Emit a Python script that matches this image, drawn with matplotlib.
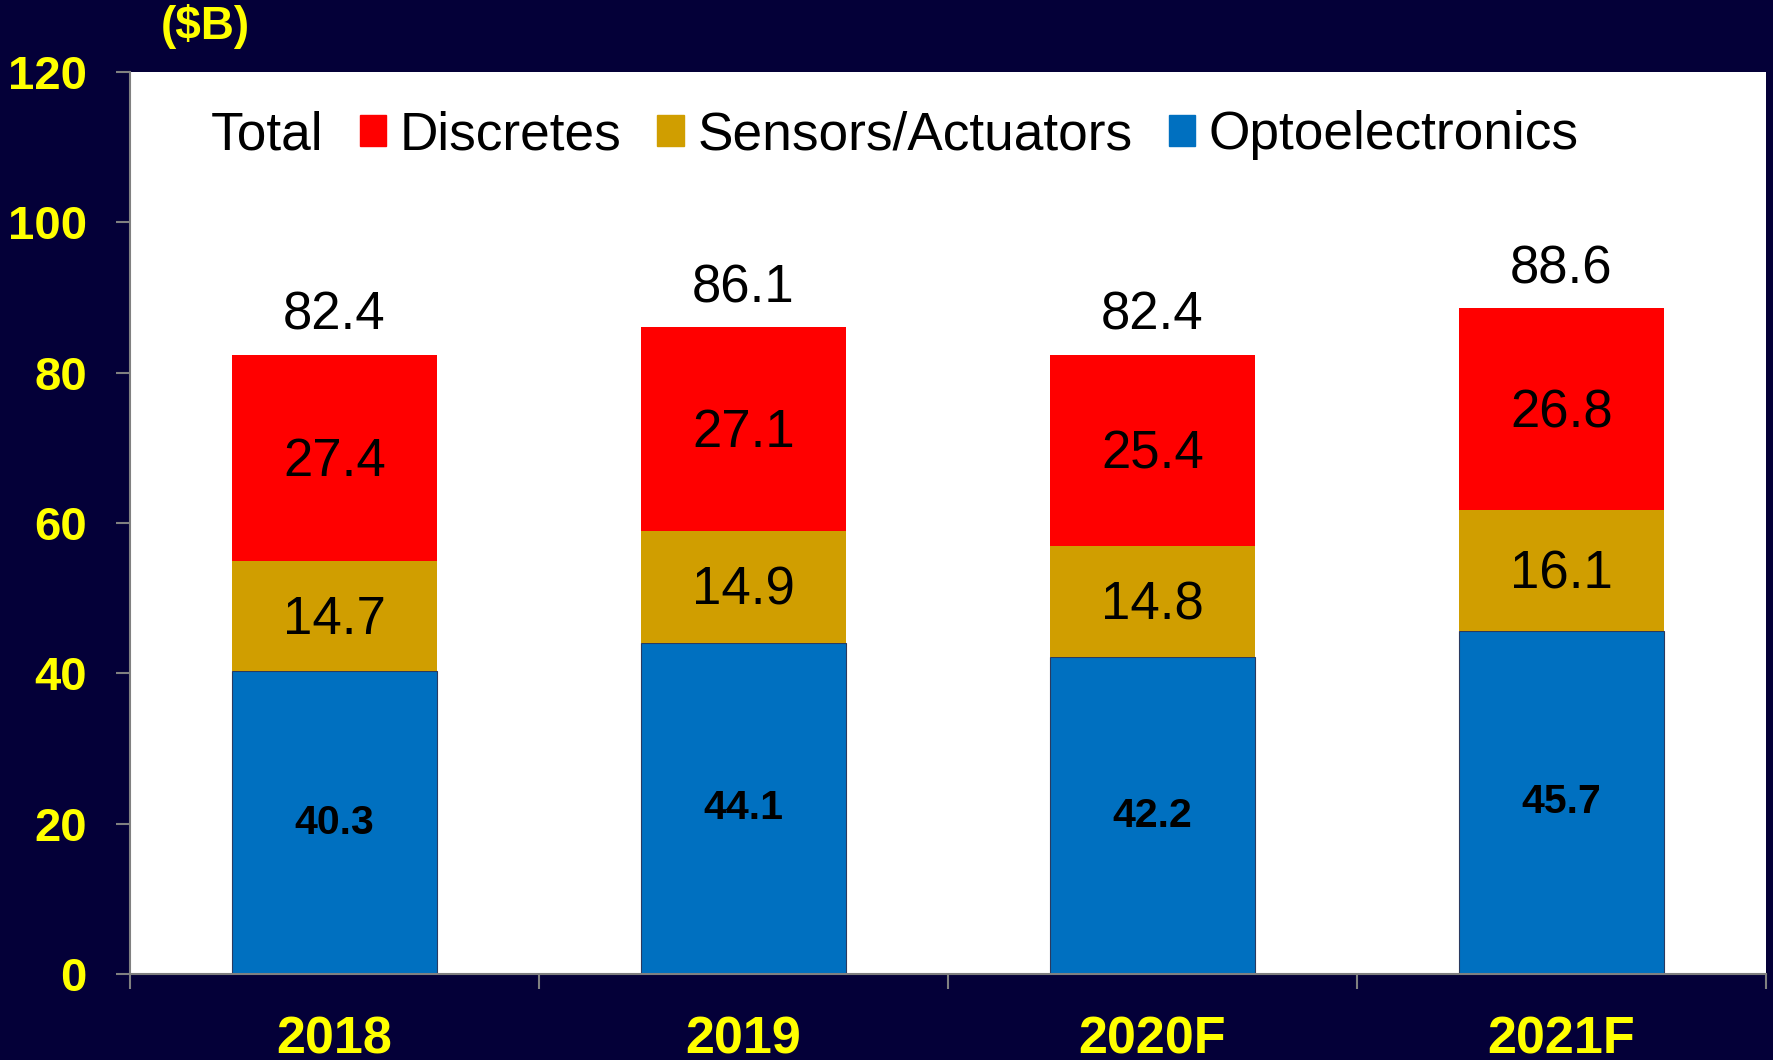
import matplotlib
matplotlib.use("Agg")
import matplotlib.pyplot as plt
from matplotlib.patches import Patch
import numpy as np

plt.rcParams['font.family'] = ['Liberation Sans', 'DejaVu Sans']

years = ['2018', '2019', '2020F', '2021F']
opto = [40.3, 44.1, 42.2, 45.7]
sensors = [14.7, 14.9, 14.8, 16.1]
discretes = [27.4, 27.1, 25.4, 26.8]
totals = [82.4, 86.1, 82.4, 88.6]

bg = '#040038'
c_opto = '#0070C0'
c_sens = '#D09E00'
c_disc = '#FF0000'
yellow = '#FFFF00'

fig = plt.figure(figsize=(17.73, 10.60), dpi=100, facecolor=bg)
ax = fig.add_axes([0.0733, 0.081, 0.9227, 0.851])
ax.set_facecolor('white')

x = np.arange(len(years))
w = 0.5
b1 = ax.bar(x, opto, w, color=c_opto, edgecolor='#2a3a60', linewidth=0.8)
base2 = np.array(opto)
b2 = ax.bar(x, sensors, w, bottom=base2, color=c_sens, linewidth=0)
base3 = base2 + np.array(sensors)
b3 = ax.bar(x, discretes, w, bottom=base3, color=c_disc, linewidth=0)

# segment values, centred in each block
ax.bar_label(b1, labels=[f'{v:.1f}' for v in opto], label_type='center',
             fontsize=29.5, fontweight='bold', color='black')
ax.bar_label(b2, labels=[f'{v:.1f}' for v in sensors], label_type='center',
             fontsize=38, color='black', padding=-3)
ax.bar_label(b3, labels=[f'{v:.1f}' for v in discretes], label_type='center',
             fontsize=38, color='black', padding=-3)
# totals on top
ax.bar_label(b3, labels=[f'{v:.1f}' for v in totals], padding=10,
             fontsize=38, color='black')

ax.set_xlim(-0.5, len(years) - 0.5)
ax.set_ylim(0, 120)
ax.set_yticks(np.arange(0, 121, 20))
ax.set_xticks(np.arange(-0.5, len(years), 1.0))
ax.set_xticklabels([])
ax.set_xticks(x, minor=True)
ax.set_xticklabels(years, minor=True)

ax.tick_params(axis='y', direction='out', length=10, width=1.5, color='#808080',
               labelcolor=yellow, labelsize=34, pad=21)
for t in ax.get_yticklabels():
    t.set_fontweight('bold')
ax.tick_params(axis='x', which='major', direction='out', length=11, width=1.5,
               color='#808080')
ax.tick_params(axis='x', which='minor', length=0, pad=30,
               labelcolor=yellow, labelsize=37.5)
for t in ax.get_xticklabels(minor=True):
    t.set_fontweight('bold')

for s in ['top', 'right']:
    ax.spines[s].set_visible(False)
for s in ['left', 'bottom']:
    ax.spines[s].set_color('#808080')
    ax.spines[s].set_linewidth(1.5)

handles = [Patch(visible=False), Patch(color=c_disc), Patch(color=c_sens), Patch(color=c_opto)]
labels = ['Total', 'Discretes', 'Sensors/Actuators', 'Optoelectronics']
leg = ax.legend(handles, labels, ncol=4, loc='center left', bbox_to_anchor=(0.025, 0.93),
                frameon=False, fontsize=38.3, handlelength=0.5, handleheight=0.5,
                handletextpad=0.25, columnspacing=0.68, borderpad=0, borderaxespad=0)

fig.text(0.116, 0.975, '($B)', color=yellow, fontsize=33, fontweight='bold',
         ha='center', va='center')

fig.savefig('out.png', dpi=100, facecolor=bg)
